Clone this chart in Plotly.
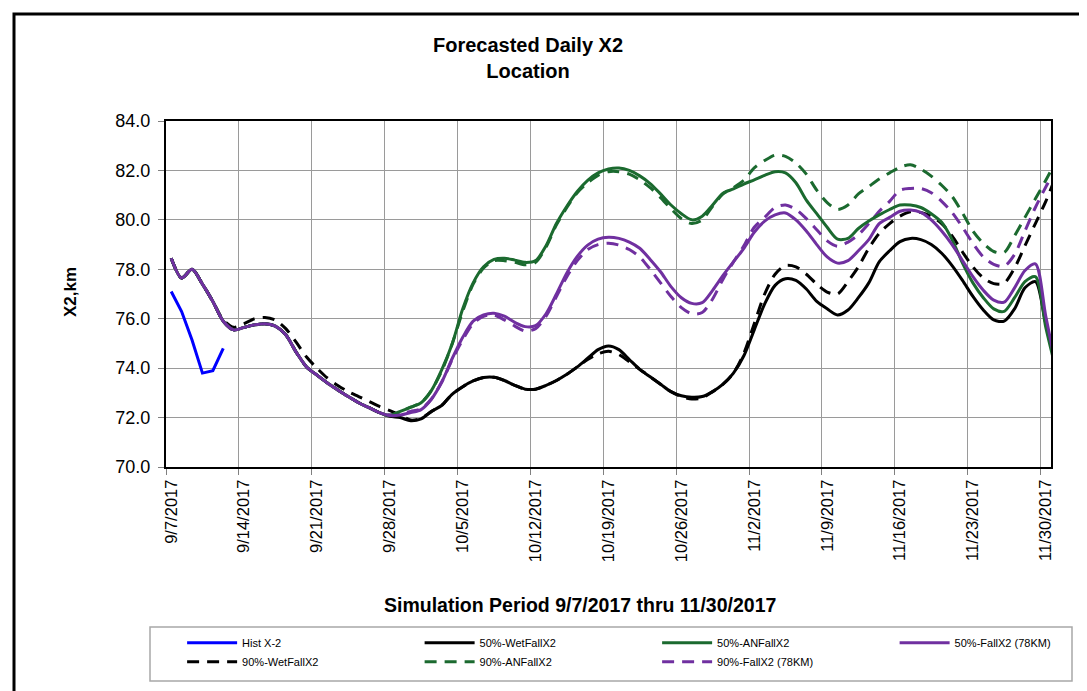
import pandas as pd
import plotly.graph_objects as go

# ---------------- data ----------------
start_date = "2017-09-07"
end_date = "2017-12-01"

tick_dates = ["2017-09-07", "2017-09-14", "2017-09-21", "2017-09-28", "2017-10-05",
              "2017-10-12", "2017-10-19", "2017-10-26", "2017-11-02", "2017-11-09",
              "2017-11-16", "2017-11-23", "2017-11-30"]
tick_labels = ["9/7/2017", "9/14/2017", "9/21/2017", "9/28/2017", "10/5/2017",
               "10/12/2017", "10/19/2017", "10/26/2017", "11/2/2017", "11/9/2017",
               "11/16/2017", "11/23/2017", "11/30/2017"]

hist_x2 = [77.1, 76.29, 75.14, 73.8, 73.9, 74.8]

common_start = [78.45, 77.65, 78.0, 77.4, 76.7, 75.9, 75.55, 75.65, 75.75, 75.8,
                75.7, 75.35, 74.65, 74.05, 73.72, 73.4, 73.12, 72.85, 72.6, 72.4, 72.2]

wet50_tail = [72.05, 72.0, 71.87, 71.95, 72.25, 72.5, 72.95, 73.25, 73.48, 73.62,
              73.63, 73.5, 73.3, 73.15, 73.15, 73.3, 73.5, 73.75, 74.05, 74.4,
              74.75, 74.9, 74.75, 74.35, 73.95, 73.65, 73.35, 73.05, 72.88, 72.82,
              72.85, 73.05, 73.35, 73.8, 74.5, 75.55, 76.6, 77.35, 77.62, 77.55,
              77.2, 76.7, 76.4, 76.15, 76.35, 76.85, 77.45, 78.3, 78.75, 79.12,
              79.25, 79.2, 79.0, 78.65, 78.15, 77.55, 76.9, 76.35, 75.95, 75.9,
              76.4, 77.25, 77.5, 75.8, 74.1]

an50_tail = [72.08, 72.25, 72.42, 72.6, 73.1, 73.95, 75.0, 76.4, 77.45, 78.1,
             78.4, 78.45, 78.37, 78.28, 78.35, 78.95, 79.85, 80.55, 81.15, 81.6,
             81.9, 82.06, 82.1, 82.0, 81.78, 81.47, 81.05, 80.6, 80.25, 80.0,
             80.15, 80.6, 81.08, 81.25, 81.45, 81.62, 81.8, 81.95, 81.9, 81.5,
             80.8, 80.25, 79.7, 79.22, 79.25, 79.65, 79.95, 80.2, 80.42, 80.6,
             80.6, 80.5, 80.25, 79.9, 79.2, 78.25, 77.45, 76.85, 76.4, 76.3,
             76.85, 77.5, 77.7, 75.65, 73.9]

fall50_tail = [72.08, 72.1, 72.2, 72.32, 72.75, 73.45, 74.4, 75.25, 75.9, 76.15,
               76.22, 76.1, 75.85, 75.68, 75.72, 76.2, 77.0, 77.85, 78.52, 78.98,
               79.22, 79.3, 79.25, 79.1, 78.85, 78.4, 77.9, 77.3, 76.85, 76.62,
               76.65, 77.15, 77.75, 78.3, 78.85, 79.5, 79.95, 80.2, 80.28, 80.0,
               79.55, 79.0, 78.5, 78.25, 78.35, 78.75, 79.2, 79.85, 80.1, 80.35,
               80.4, 80.3, 80.0, 79.55, 79.0, 78.35, 77.7, 77.15, 76.75, 76.67,
               77.25, 77.95, 78.22, 76.1, 74.0]

wet90 = [78.45, 77.65, 78.0, 77.4, 76.7, 75.95, 75.65, 75.8, 76.0, 76.05,
         75.95, 75.6, 75.05, 74.45, 74.0, 73.6, 73.3, 73.05, 72.85, 72.65,
         72.45, 72.28, 72.1, 71.9, 71.97, 72.25, 72.5, 72.95, 73.25, 73.48,
         73.62, 73.63, 73.5, 73.3, 73.15, 73.15, 73.3, 73.5, 73.75, 74.05,
         74.35, 74.58, 74.68, 74.55, 74.25, 73.95, 73.65, 73.35, 73.05, 72.85,
         72.75, 72.8, 73.05, 73.35, 73.8, 74.6, 75.8, 77.0, 77.8, 78.15,
         78.1, 77.8, 77.4, 77.08, 77.0, 77.5, 78.1, 78.85, 79.45, 79.85,
         80.15, 80.33, 80.3, 80.15, 79.85, 79.35, 78.7, 78.1, 77.65, 77.42,
         77.44, 78.05, 78.95, 79.85, 80.75, 81.8]

an90_tail = [72.1, 72.25, 72.42, 72.6, 73.1, 73.9, 75.0, 76.3, 77.4, 78.05,
             78.35, 78.35, 78.28, 78.18, 78.28, 78.9, 79.8, 80.5, 81.1, 81.5,
             81.8, 81.95, 81.95, 81.85, 81.62, 81.3, 80.9, 80.45, 80.05, 79.85,
             80.0, 80.55, 81.05, 81.3, 81.6, 82.1, 82.4, 82.62, 82.57, 82.3,
             81.85, 81.2, 80.7, 80.42, 80.6, 81.05, 81.35, 81.65, 81.9, 82.13,
             82.23, 82.05, 81.77, 81.4, 80.95, 80.28, 79.55, 79.05, 78.72, 78.68,
             79.35, 80.1, 80.85, 81.6, 82.4]

fall90_tail = [72.1, 72.15, 72.25, 72.35, 72.75, 73.45, 74.35, 75.15, 75.8, 76.1,
               76.15, 75.95, 75.7, 75.5, 75.6, 76.1, 76.9, 77.7, 78.35, 78.8,
               79.0, 79.05, 78.98, 78.8, 78.5, 78.0, 77.45, 76.9, 76.45, 76.2,
               76.25, 76.8, 77.6, 78.3, 78.95, 79.7, 80.1, 80.5, 80.6, 80.42,
               80.05, 79.6, 79.15, 78.93, 79.1, 79.4, 79.85, 80.35, 80.75, 81.2,
               81.27, 81.27, 81.1, 80.75, 80.3, 79.7, 79.05, 78.5, 78.2, 78.12,
               78.6, 79.55, 80.5, 81.33, 82.1]

wet50 = common_start + wet50_tail
an50 = common_start + an50_tail
fall50 = common_start + fall50_tail
an90 = common_start + an90_tail
fall90 = common_start + fall90_tail

# ---------------- figure ----------------
dates = pd.date_range(start_date, end_date, freq="D")
half_day = pd.Timedelta(hours=12)
xs = dates + half_day   # values sit in the middle of each day band
label_pos = pd.to_datetime(tick_dates) + half_day

BLUE = "#0000FF"
BLACK = "#000000"
GREEN = "#1B6A2F"
PURPLE = "#7030A0"
DASH = "12px,8px"

series = [
    ("90%-WetFallX2", wet90, BLACK, DASH, 5),
    ("90%-ANFallX2", an90, GREEN, DASH, 6),
    ("90%-FallX2 (78KM)", fall90, PURPLE, DASH, 7),
    ("50%-WetFallX2", wet50, BLACK, "solid", 2),
    ("50%-ANFallX2", an50, GREEN, "solid", 3),
    ("50%-FallX2 (78KM)", fall50, PURPLE, "solid", 4),
]

fig = go.Figure()
for name, y, color, dash, rank in series:
    fig.add_trace(go.Scatter(
        x=xs[:len(y)], y=y, name=name, mode="lines", legendrank=rank,
        line=dict(color=color, width=3, dash=dash, shape="spline", smoothing=0.8),
    ))
fig.add_trace(go.Scatter(
    x=xs[:len(hist_x2)], y=hist_x2, name="Hist X-2", mode="lines", legendrank=1,
    line=dict(color=BLUE, width=3),
))

FONT = "Liberation Sans, Arial, sans-serif"
W, H = 1079, 683   # page adds an 8px body margin

fig.update_layout(
    width=W, height=H,
    margin=dict(l=158, r=36, t=113, b=224, autoexpand=False),
    paper_bgcolor="white", plot_bgcolor="white",
    font=dict(family=FONT, color="black"),
    showlegend=True,
    title=dict(text="<b>Forecasted Daily X2<br>Location</b>", font=dict(size=20, family=FONT),
               x=520 / W, xref="container", xanchor="center",
               y=1 - 44 / H, yref="container", yanchor="top"),
    legend=dict(orientation="h", x=-0.001, xanchor="left", y=-0.466, yanchor="top",
                entrywidth=155.5, entrywidthmode="pixels", itemwidth=50,
                indentation=17, font=dict(size=11, family=FONT),
                bgcolor="rgba(0,0,0,0)", borderwidth=0, traceorder="normal"),
)

fig.update_xaxes(
    type="date", range=[start_date, end_date],
    tickmode="array", tickvals=label_pos, ticktext=tick_labels, tickangle=-90,
    tickfont=dict(size=16.5, family=FONT), ticks="", ticklabelstandoff=4,
    showgrid=False,
    minor=dict(tick0=start_date, dtick=7 * 86400000, showgrid=True, gridcolor="#9A9A9A",
               gridwidth=1, ticks="outside", ticklen=6, tickcolor="#808080"),
    showline=True, linecolor="black", linewidth=2, mirror=True, zeroline=False,
)
fig.update_yaxes(
    range=[70, 84], dtick=2, tick0=70, tickformat=".1f",
    tickfont=dict(size=18, family=FONT), ticks="outside", ticklen=6, tickcolor="#808080",
    ticklabelstandoff=4,
    showgrid=True, gridcolor="#9A9A9A", gridwidth=1,
    showline=True, linecolor="black", linewidth=2, mirror=True, zeroline=False,
)

# axis titles as annotations (positions match the reference layout)
fig.add_annotation(text="<b>Simulation Period 9/7/2017 thru 11/30/2017</b>",
                   xref="paper", yref="paper", x=(580 - 166) / 885, y=(467 - 605) / 346,
                   showarrow=False, font=dict(size=19.5, family=FONT), xanchor="center", yanchor="middle")
fig.add_annotation(text="<b>X2,km</b>", textangle=-90,
                   xref="paper", yref="paper", x=(70 - 166) / 885, y=(467 - 292) / 346,
                   showarrow=False, font=dict(size=17, family=FONT), xanchor="center", yanchor="middle")

# chart frame and legend frame
fig.add_shape(type="rect", xref="paper", yref="paper",
              x0=(14 - 166) / 885, x1=(1110 - 166) / 885, y0=(467 - 720) / 346, y1=(467 - 14) / 346,
              line=dict(color="black", width=3), fillcolor="rgba(0,0,0,0)", layer="below")
fig.add_shape(type="rect", xref="paper", yref="paper",
              x0=(150 - 166) / 885, x1=(1072 - 166) / 885, y0=(467 - 681) / 346, y1=(467 - 627) / 346,
              line=dict(color="#A8A8A8", width=1.5), fillcolor="rgba(0,0,0,0)", layer="below")

fig.write_html("out.html")
